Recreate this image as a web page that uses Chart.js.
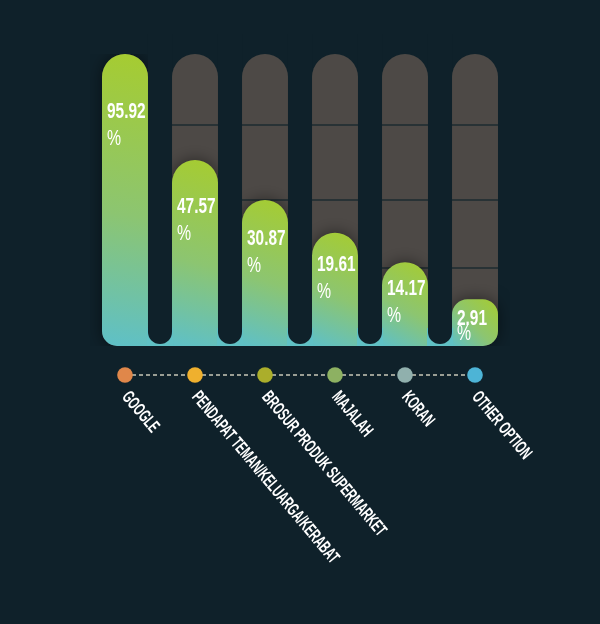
<!DOCTYPE html>
<html>
<head>
<meta charset="utf-8">
<script src="https://cdn.jsdelivr.net/npm/chart.js@4.4.1/dist/chart.umd.min.js"></script>
<style>
  html, body { margin: 0; padding: 0; background: #0f212a; }
  #wrap { width: 600px; height: 624px; }
</style>
</head>
<body>
<div id="wrap"><canvas id="sourceChart" width="600" height="624"></canvas></div>
<script>
// categories, values shown on the bars, and bar heights as drawn (percent of track)
const labels = ['GOOGLE', 'PENDAPAT TEMAN/KELUARGA/KERABAT', 'BROSUR PRODUK SUPERMARKET', 'MAJALAH', 'KORAN', 'OTHER OPTION'];
const percentValues = [95.92, 47.57, 30.87, 19.61, 14.17, 2.91];
const barLevels = [100, 63.7, 50.0, 38.8, 28.7, 16.0];
const trackMax = 100;
const trackLines = [75.7, 50, 26.7];
const dotColors = ['#e0874a', '#efb02e', '#abae2b', '#8db162', '#90b0ad', '#4db4d6'];

const BG = '#0f212a';
const TRACK = '#4d4946';
const FONT = '"Liberation Sans", Arial, sans-serif';

function barGradient(c) {
    const chart = c.chart;
    if (!chart.chartArea || !chart.scales.y) return '#8cc571';
    const x = chart.scales.x.getPixelForValue(c.dataIndex);
    const top = chart.scales.y.getPixelForValue(barLevels[c.dataIndex]);
    const base = chart.scales.y.getPixelForValue(0);
    const g = chart.ctx.createLinearGradient(x + 23, top, x - 23, base);
    g.addColorStop(0, '#a6cc30');
    g.addColorStop(0.55, '#8cc571');
    g.addColorStop(1, '#5ec0c8');
    return g;
}

// short bars get a flatter top
function topRadius(c, value) {
    const y = c.chart.scales.y;
    if (!y) return 23;
    const h = y.getPixelForValue(0) - y.getPixelForValue(value);
    return Math.min(23, h * 0.33);
}

function cornerRadius(c) {
    const r = c.datasetIndex === 0 ? topRadius(c, barLevels[c.dataIndex]) : 23;
    return {
        topLeft: r,
        topRight: r,
        bottomLeft: c.dataIndex === 0 ? 15 : 0,
        bottomRight: c.dataIndex === labels.length - 1 ? 15 : 0
    };
}

const decorPlugin = {
    id: 'decor',
    beforeDatasetDraw(chart, args) {
        if (args.index !== 0) return;
        const ctx = chart.ctx;
        const track = chart.getDatasetMeta(1).data;
        // thin separators on the grey tracks
        ctx.save();
        ctx.strokeStyle = '#1d2b31';
        ctx.lineWidth = 1.6;
        trackLines.forEach(v => {
            const y = chart.scales.y.getPixelForValue(v);
            track.forEach(el => {
                ctx.beginPath();
                ctx.moveTo(el.x - el.width / 2, y);
                ctx.lineTo(el.x + el.width / 2, y);
                ctx.stroke();
            });
        });
        ctx.restore();
        ctx.save();
        ctx.shadowColor = 'rgba(0,0,0,0.5)';
        ctx.shadowBlur = 16;
    },
    afterDatasetDraw(chart, args) {
        if (args.index === 0) chart.ctx.restore();
    },
    afterDatasetsDraw(chart) {
        const ctx = chart.ctx;
        const bars = chart.getDatasetMeta(0).data;
        const area = chart.chartArea;
        const base = chart.scales.y.getPixelForValue(0);

        // joined base between bars, with rounded dark gaps
        for (let i = 0; i < bars.length - 1; i++) {
            const gl = bars[i].x + bars[i].width / 2;
            const gr = bars[i + 1].x - bars[i + 1].width / 2;
            const r = (gr - gl) / 2;
            ctx.fillStyle = '#60c1c5';
            ctx.fillRect(gl - 1, base - 18, gr - gl + 2, 18);
            ctx.fillStyle = BG;
            ctx.beginPath();
            ctx.moveTo(gl, area.top - 20);
            ctx.lineTo(gl, base - 2 - r);
            ctx.arc(gl + r, base - 2 - r, r, Math.PI, 0, true);
            ctx.lineTo(gr, area.top - 20);
            ctx.closePath();
            ctx.fill();
        }

        // value labels inside the bars
        ctx.fillStyle = '#ffffff';
        ctx.textAlign = 'left';
        ctx.textBaseline = 'alphabetic';
        bars.forEach((el, i) => {
            const h = el.base - el.y;
            const off = Math.min(48, 0.2 * h);
            const gap = Math.min(27, (h - off - 6) / 2);
            const x = el.x - el.width / 2 + 5;
            const y1 = el.y + off + 16;
            ctx.save();
            ctx.translate(x, y1);
            ctx.scale(0.7, 1);
            ctx.font = 'bold 22px ' + FONT;
            ctx.fillText(percentValues[i].toFixed(2), 0, 0);
            ctx.restore();
            ctx.save();
            ctx.translate(x, y1 + gap);
            ctx.scale(0.72, 1);
            ctx.font = '22px ' + FONT;
            ctx.fillText('%', 0, 0);
            ctx.restore();
        });

        // dotted legend row
        const dotY = 375;
        const xs = labels.map((_, i) => chart.scales.x.getPixelForValue(i));
        ctx.save();
        ctx.strokeStyle = '#c9c7b8';
        ctx.lineWidth = 1.6;
        ctx.setLineDash([4, 3]);
        ctx.beginPath();
        ctx.moveTo(xs[0], dotY);
        ctx.lineTo(xs[xs.length - 1], dotY);
        ctx.stroke();
        ctx.restore();
        xs.forEach((x, i) => {
            ctx.fillStyle = dotColors[i];
            ctx.beginPath();
            ctx.arc(x, dotY, 7.8, 0, Math.PI * 2);
            ctx.fill();
        });

        // slanted category names
        ctx.fillStyle = '#ffffff';
        ctx.textBaseline = 'middle';
        ctx.font = 'bold 18px ' + FONT;
        xs.forEach((x, i) => {
            ctx.save();
            ctx.translate(x, 394);
            ctx.rotate(50 * Math.PI / 180);
            ctx.scale(0.6, 1);
            ctx.fillText(labels[i], 0, 0);
            ctx.restore();
        });
    }
};

const ctx = document.getElementById('sourceChart').getContext('2d');
const myChart = new Chart(ctx, {
    type: 'bar',
    data: {
        labels: labels,
        datasets: [
            {
                data: barLevels,
                backgroundColor: barGradient,
                borderWidth: 0,
                borderSkipped: false,
                borderRadius: cornerRadius,
                grouped: false,
                barPercentage: 0.657,
                categoryPercentage: 1
            },
            {
                data: labels.map(() => trackMax),
                backgroundColor: TRACK,
                borderWidth: 0,
                borderSkipped: false,
                borderRadius: cornerRadius,
                grouped: false,
                barPercentage: 0.657,
                categoryPercentage: 1
            }
        ]
    },
    options: {
        responsive: false,
        animation: false,
        layout: { padding: { left: 90, right: 90, top: 54, bottom: 278 } },
        scales: {
            x: { display: false },
            y: { display: false, min: 0, max: trackMax }
        },
        plugins: {
            legend: { display: false },
            tooltip: { enabled: false }
        }
    },
    plugins: [decorPlugin]
});
</script>
</body>
</html>
